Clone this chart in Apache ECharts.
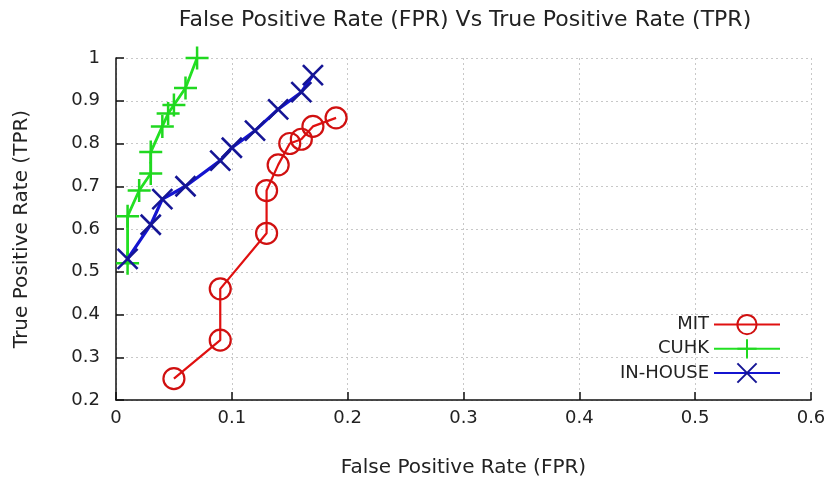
<!DOCTYPE html>
<html>
<head>
<meta charset="utf-8">
<script src="https://cdn.jsdelivr.net/npm/echarts@6/dist/echarts.min.js"></script>
<style>
  html, body { margin: 0; padding: 0; background: #fff; }
  #chart { width: 832px; height: 487px; }
</style>
</head>
<body>
<div id="chart"></div>
<script>
// ROC points: [FPR, TPR]
const mitPoints = [
  [0.05, 0.25], [0.09, 0.34], [0.09, 0.46], [0.13, 0.59], [0.13, 0.69],
  [0.14, 0.75], [0.15, 0.80], [0.16, 0.81], [0.17, 0.84], [0.19, 0.86]
]
const cuhkPoints = [
  [0.01, 0.52], [0.01, 0.63], [0.02, 0.69], [0.03, 0.73], [0.03, 0.78],
  [0.04, 0.84], [0.045, 0.87], [0.05, 0.89], [0.06, 0.93], [0.07, 1.0]
]
const inHousePoints = [
  [0.01, 0.53], [0.03, 0.61], [0.04, 0.67], [0.06, 0.70], [0.09, 0.76],
  [0.10, 0.79], [0.12, 0.83], [0.14, 0.88], [0.16, 0.92], [0.17, 0.96]
]
const seriesNames = ['MIT', 'CUHK', 'IN-HOUSE']
const xTicks = [0, 0.1, 0.2, 0.3, 0.4, 0.5, 0.6]
const yTicks = [0.2, 0.3, 0.4, 0.5, 0.6, 0.7, 0.8, 0.9, 1]

const FONT = 'DejaVu Sans'
const PLUS = 'path://M0,-1L0,1M-1,0L1,0'
const CROSS = 'path://M-1,-1L1,1M1,-1L-1,1'

const myChart = echarts.init(document.getElementById('chart'))

function fmt(v) {
  return String(+v.toFixed(1))
}

const gridLine = {
  show: true,
  lineStyle: { color: '#c8c8c8', type: [2, 3], width: 1 }
}

myChart.setOption({
  animation: false,
  backgroundColor: '#fff',
  textStyle: { fontFamily: FONT },
  title: {
    text: 'False Positive Rate (FPR) Vs True Positive Rate (TPR)',
    left: 460,
    textAlign: 'center',
    top: 4,
    textStyle: { fontFamily: FONT, fontSize: 22, fontWeight: 'normal', color: '#222' }
  },
  grid: { left: 116, right: 21, top: 58, bottom: 87 },
  legend: {
    orient: 'vertical',
    right: 46,
    top: 309,
    align: 'right',
    itemWidth: 66,
    itemHeight: 24,
    itemGap: 3,
    selectedMode: false,
    textStyle: { fontFamily: FONT, fontSize: 18, color: '#222' },
    data: seriesNames
  },
  xAxis: {
    type: 'value',
    min: xTicks[0],
    max: xTicks[xTicks.length - 1],
    interval: 0.1,
    name: 'False Positive Rate (FPR)',
    nameLocation: 'middle',
    nameGap: 58,
    nameTextStyle: { fontFamily: FONT, fontSize: 20, color: '#222' },
    axisLine: { lineStyle: { color: '#111', width: 1.5 } },
    axisTick: { inside: true, length: 8, lineStyle: { color: '#111', width: 1.5 } },
    axisLabel: { fontFamily: FONT, fontSize: 18, color: '#222', margin: 9, formatter: fmt },
    splitLine: gridLine
  },
  yAxis: {
    type: 'value',
    min: yTicks[0],
    max: yTicks[yTicks.length - 1],
    interval: 0.1,
    name: 'True Positive Rate (TPR)',
    nameLocation: 'middle',
    nameGap: 84,
    nameTextStyle: { fontFamily: FONT, fontSize: 20, color: '#222' },
    axisLine: { lineStyle: { color: '#111', width: 1.5 } },
    axisTick: { inside: true, length: 8, lineStyle: { color: '#111', width: 1.5 } },
    axisLabel: { fontFamily: FONT, fontSize: 18, color: '#222', margin: 16, formatter: fmt },
    splitLine: gridLine
  },
  series: [
    {
      name: seriesNames[0],
      type: 'line',
      data: mitPoints,
      symbol: 'circle',
      symbolSize: 21,
      lineStyle: { color: '#e01010', width: 2.2 },
      itemStyle: { color: 'rgba(255,255,255,0)', borderColor: '#d01010', borderWidth: 2.2 },
      z: 3
    },
    {
      name: seriesNames[1],
      type: 'line',
      data: cuhkPoints,
      symbol: PLUS,
      symbolSize: 23,
      lineStyle: { color: '#22e022', width: 2.8 },
      itemStyle: { color: 'rgba(0,0,0,0)', borderColor: '#20d820', borderWidth: 2.5 },
      z: 2
    },
    {
      name: seriesNames[2],
      type: 'line',
      data: inHousePoints,
      symbol: CROSS,
      symbolSize: 20,
      lineStyle: { color: '#1414d0', width: 3.2 },
      itemStyle: { color: 'rgba(0,0,0,0)', borderColor: '#151595', borderWidth: 2.6 },
      z: 4
    }
  ]
})
</script>
</body>
</html>
